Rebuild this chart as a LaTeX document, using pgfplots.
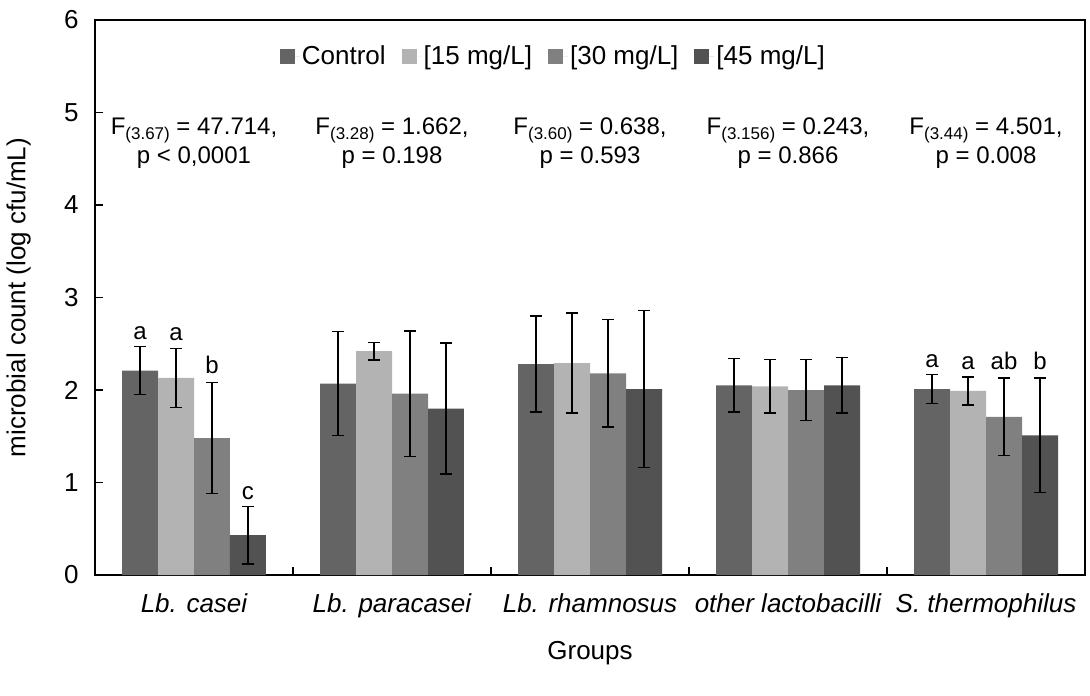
\documentclass[border=0pt]{standalone}
\usepackage{fontspec}
\setmainfont{Liberation Sans}
\usepackage{pgfplots}
\usepackage{pgfplotstable}
\pgfplotsset{compat=1.18}
\usetikzlibrary{calc}

\definecolor{cCtrl}{HTML}{646464}
\definecolor{cLow}{HTML}{B3B3B3}
\definecolor{cMid}{HTML}{808080}
\definecolor{cHigh}{HTML}{525252}

\newcommand\fs{\fontsize{26bp}{31bp}\selectfont}
\newcommand\fa{\fontsize{24bp}{29bp}\selectfont}
\newcommand\sub[1]{\raisebox{-0.4ex}{\fontsize{17bp}{17bp}\selectfont #1}}

% x = group, y = mean, e = error
\pgfplotstableread{
x y e
0 2.21 0.26
1 2.07 0.56
2 2.28 0.52
3 2.05 0.29
4 2.01 0.155
}\ctrl
\pgfplotstableread{
x y e
0 2.13 0.32
1 2.42 0.095
2 2.29 0.54
3 2.04 0.29
4 1.99 0.15
}\low
\pgfplotstableread{
x y e
0 1.48 0.60
1 1.96 0.68
2 2.18 0.58
3 2.00 0.33
4 1.71 0.42
}\mid
\pgfplotstableread{
x y e
0 0.43 0.31
1 1.80 0.71
2 2.01 0.85
3 2.05 0.30
4 1.51 0.62
}\high

\begin{document}
\begin{tikzpicture}
\begin{axis}[
    width=990bp, height=555bp, scale only axis,
    xmin=-0.5, xmax=4.5, ymin=0, ymax=6,
    ybar=0pt, bar width=0.1818,
    xtick={0,...,4},
    xticklabels={Lb. casei, Lb. paracasei, Lb. rhamnosus, other lactobacilli, S. thermophilus},
    minor xtick={0.5,1.5,2.5,3.5},
    ytick={0,...,6},
    tick pos=left, tick align=inside,
    major tick length=8bp, minor tick length=8bp,
    major x tick style={draw=none},
    every tick/.style={black, line width=1.3bp},
    axis line style={line width=1.5bp},
    tick label style={font=\fs},
    xticklabel style={font=\fs\itshape, yshift=-15bp},
    yticklabel style={xshift=-13bp},
    /pgf/number format/assume math mode=true,
    xlabel={Groups},
    xlabel style={font=\fs, at={(axis description cs:0.5,-0.14)}, anchor=center},
    ylabel={microbial count (log cfu/mL)},
    ylabel style={font=\fs, at={(axis description cs:-0.077,0.5)}, anchor=center},
    legend columns=4,
    legend style={draw=none, fill=none, font=\fs, at={(0.463,0.935)}, anchor=center,
        /tikz/every even column/.append style={column sep=14bp}},
    legend image code/.code={\fill[#1] (0bp,-7.5bp) rectangle (15bp,7.5bp); \path (0bp,0bp) -- (20bp,0bp);},
    error bars/y dir=both, error bars/y explicit,
    error bars/error bar style={line width=1.5bp, black},
    error bars/error mark options={rotate=90, mark size=6bp, line width=1.5bp, black},
]
\addplot[fill=cCtrl, draw=none] table[x=x, y=y, y error=e]{\ctrl};
\addlegendentry{Control}
\addplot[fill=cLow, draw=none] table[x=x, y=y, y error=e]{\low};
\addlegendentry{[15 mg/L]}
\addplot[fill=cMid, draw=none] table[x=x, y=y, y error=e]{\mid};
\addlegendentry{[30 mg/L]}
\addplot[fill=cHigh, draw=none] table[x=x, y=y, y error=e]{\high};
\addlegendentry{[45 mg/L]}

\begin{scope}[every node/.style={font=\fa, align=center}]
\node at (axis cs:0,4.67) {F\sub{(3.67)} = 47.714,\\p < 0,0001};
\node at (axis cs:1,4.67) {F\sub{(3.28)} = 1.662,\\p = 0.198};
\node at (axis cs:2,4.67) {F\sub{(3.60)} = 0.638,\\p = 0.593};
\node at (axis cs:3,4.67) {F\sub{(3.156)} = 0.243,\\p = 0.866};
\node at (axis cs:4,4.67) {F\sub{(3.44)} = 4.501,\\p = 0.008};
\end{scope}

\begin{scope}[every node/.style={font=\fa, anchor=base, inner sep=0pt}]
\node at (axis cs:-0.2727,2.55) {a};
\node at (axis cs:-0.0909,2.54) {a};
\node at (axis cs:0.0909,2.18) {b};
\node at (axis cs:0.2727,0.82) {c};
\node at (axis cs:3.7273,2.24) {a};
\node at (axis cs:3.9091,2.22) {a};
\node at (axis cs:4.0909,2.22) {ab};
\node at (axis cs:4.2727,2.22) {b};
\end{scope}
\end{axis}
\pgfresetboundingbox
\path ($(current axis.south west)+(-95bp,-120bp)$) rectangle ($(current axis.north east)+(5bp,20bp)$);
\end{tikzpicture}
\end{document}
